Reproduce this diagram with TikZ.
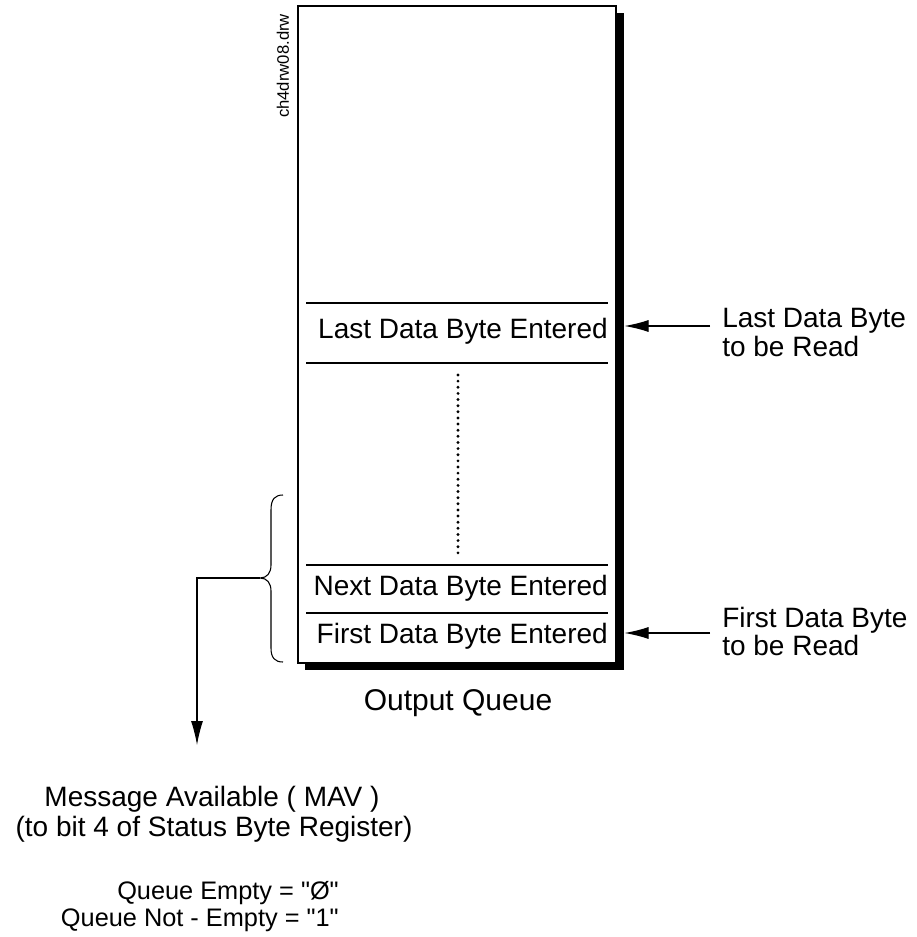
\documentclass[tikz,border=0pt]{standalone}
\usepackage{fontspec}
\setmainfont{Liberation Sans}
\usetikzlibrary{arrows.meta}
\begin{document}
\begin{tikzpicture}[x=0.75pt,y=-0.75pt,
  lbl/.style={inner sep=0pt,font=\fontsize{21}{25}\selectfont},
  small/.style={inner sep=0pt,font=\fontsize{19}{23}\selectfont},
  sepline/.style={line width=2.2pt},
  conn/.style={line width=0.8pt,-{Latex[length=18pt,width=9pt]}},
  thin/.style={line width=0.8pt}
]
\useasboundingbox (0,0) rectangle (916,937);
% shadow and queue box
\node[fill=black,inner sep=0pt,minimum width=239.25pt,minimum height=492.75pt,anchor=north west] (shadow) at (305,13) {};
\node[draw,fill=white,line width=1.5pt,inner sep=0pt,minimum width=238.5pt,minimum height=492.75pt,anchor=north west] (queue) at (297,5) {};
% rotated file name
\node[inner sep=0pt,rotate=90,font=\fontsize{12.5}{14}\selectfont] (fname) at (283,66) {ch4drw08.drw};
% separators
\coordinate (s1a) at (306,303); \coordinate (s1b) at (608,303);
\coordinate (s2a) at (306,363); \coordinate (s2b) at (608,363);
\coordinate (s3a) at (306,565); \coordinate (s3b) at (608,565);
\coordinate (s4a) at (306,613); \coordinate (s4b) at (608,613);
\draw[sepline] (s1a) -- (s1b);
\draw[sepline] (s2a) -- (s2b);
\draw[sepline] (s3a) -- (s3b);
\draw[sepline] (s4a) -- (s4b);
\coordinate (dtop) at (458,375); \coordinate (dbot) at (458,555);
\draw[line width=2.4pt,line cap=round,dash pattern=on 0pt off 4.6pt] (dtop) -- (dbot);
% entries
\node[lbl,anchor=base east] (last) at (608,339) {Last Data Byte Entered};
\node[lbl,anchor=base east] (next) at (608,595) {Next Data Byte Entered};
\node[lbl,anchor=base east] (first) at (608,643) {First Data Byte Entered};
% right labels
\node[lbl,anchor=base west] (lastr) at (722,328) {Last Data Byte};
\node[lbl,anchor=base west] (lastr2) at (722,356) {to be Read};
\node[lbl,anchor=base west] (firstr) at (722,627) {First Data Byte};
\node[lbl,anchor=base west] (firstr2) at (722,655) {to be Read};
\coordinate (lastsrc) at (710,326);
\coordinate (firstsrc) at (710,633);
\draw[conn] (lastsrc) -- (lastsrc -| shadow.east);
\draw[conn] (firstsrc) -- (firstsrc -| shadow.east);
% caption
\node[lbl,anchor=base,font=\fontsize{22.5}{26}\selectfont] (oq) at (458,710) {Output Queue};
% brace
\coordinate (bracetip) at (260,578);
\draw[thin] (283,495) .. controls (275,495) and (271,499) .. (271,510) -- (271,565)
  .. controls (271,573) and (267,578) .. (bracetip)
  .. controls (267,578) and (271,583) .. (271,591) -- (271,648)
  .. controls (271,658) and (275,662) .. (283,662);
\coordinate (mavtop) at (197,745);
\draw[conn] (bracetip) -| (mavtop);
% bottom text
\node[lbl,anchor=base] (mav) at (212,806) {Message Available ( MAV )};
\node[lbl,anchor=base] (mav2) at (214,836) {(to bit 4 of Status Byte Register)};
\node[small,anchor=base east] (qe) at (339,899) {Queue Empty = \textquotedbl Ø\textquotedbl};
\node[small,anchor=base east] (qne) at (339,926) {Queue Not - Empty = \textquotedbl 1\textquotedbl};
\end{tikzpicture}
\end{document}
